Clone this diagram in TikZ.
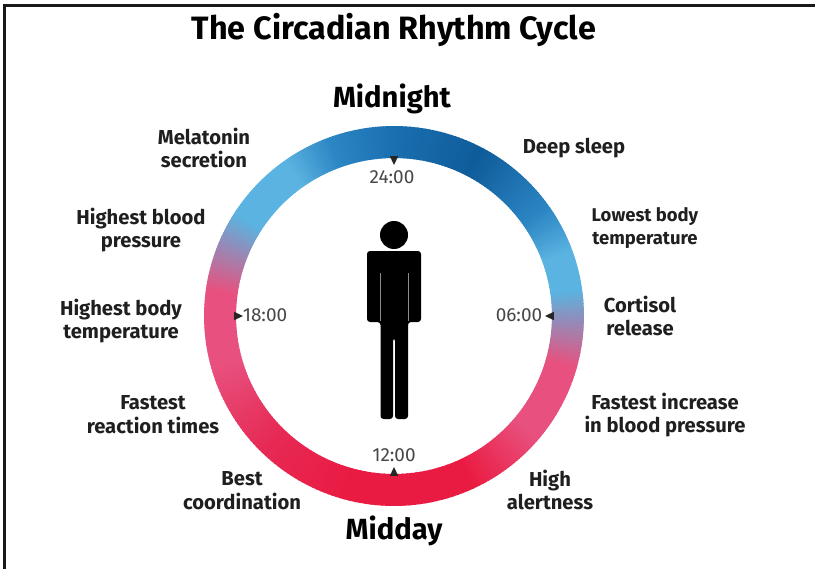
\documentclass[tikz,border=0pt]{standalone}
\usepackage{fontspec}
\setmainfont{Fira Sans}
\usepackage{tikz}

\begin{document}
\begin{tikzpicture}[
    x=0.02cm, y=0.02cm,
    lbl/.style={align=center, font=\fontsize{11.5}{13.6}\selectfont\bfseries, text=black!88},
    lblsmall/.style={lbl, font=\fontsize{10.5}{13}\selectfont\bfseries},
    clock/.style={font=\fontsize{10.8}{11}\selectfont, text=black!72},
    noon/.style={font=\fontsize{16.6}{18}\selectfont\bfseries},
    tick/.style={fill=black!85},
    gap/.style={draw=black!45, line width=0.35pt}
]
\definecolor{topblue}{HTML}{1A6FB0}
\definecolor{deepblue}{HTML}{0F5C9A}
\definecolor{midblue}{HTML}{2C86C4}
\definecolor{skyblue}{HTML}{5AB3E0}
\definecolor{rosepink}{HTML}{E8517F}
\definecolor{warmred}{HTML}{E62A55}
\definecolor{hotred}{HTML}{EA1B42}

\useasboundingbox (0,0) rectangle (815,569);
\draw[line width=0.06cm, draw=black!90] (815,563.5) -- (4.5,563.5) -- (4.5,0);

% Title and the two big labels
\node[font=\fontsize{18.4}{20}\selectfont\bfseries] (title) at (394,539) {The Circadian Rhythm Cycle};
\node[noon] (midnight) at (392,470) {Midnight};
\node[noon] (midday) at (394,38) {Midday};

% Ring: colour stops going clockwise from the top
\begin{scope}[shift={(394,253)}]
\foreach \a/\b/\ca/\cb in {
    90/62/deepblue/topblue, 62/35/midblue/deepblue, 35/20/skyblue/midblue, 20/8/skyblue/skyblue,
    8/-16/rosepink/skyblue, -16/-40/rosepink/rosepink, -40/-65/hotred/rosepink, -65/-105/hotred/hotred,
    -105/-135/warmred/hotred, -135/-165/rosepink/warmred, -165/-188/rosepink/rosepink, -188/-213/skyblue/rosepink,
    -213/-235/skyblue/skyblue, -235/-250/midblue/skyblue, -250/-270/topblue/midblue}
{
    \foreach \t in {0,...,23} {
        \pgfmathsetmacro{\st}{\a+(\b-\a)*\t/24}
        \pgfmathsetmacro{\en}{\a+(\b-\a)*(\t+1.4)/24}
        \pgfmathsetmacro{\mix}{100*(\t+0.5)/24}
        \fill[\ca!\mix!\cb] (\st:3.16cm) -- (\st:3.8cm) arc[start angle=\st, end angle=\en, radius=3.8cm]
            -- (\en:3.16cm) arc[start angle=\en, end angle=\st, radius=3.16cm] -- cycle;
    }
}

% Ticks on the inner edge
\foreach \r in {90,0,-90,180} {
    \fill[tick, rotate=\r] (3.2cm,-0.085cm) -- (3.2cm,0.085cm) -- (3.02cm,0) -- cycle;
}
\end{scope}

% Clock times
\node[clock] (t24) at (392,392) {24:00};
\node[clock] (t18) at (265,254) {18:00};
\node[clock] (t06) at (519,254) {06:00};
\node[clock] (t12) at (394,114) {12:00};

% Labels around the ring
\node[lbl] (mel) at (204,421) {Melatonin\\secretion};
\node[lbl] (deep) at (574,421) {Deep sleep};
\node[lbl] (hbp) at (141,339) {Highest blood\\pressure};
\node[lblsmall] (lbt) at (645,341) {Lowest body\\temperature};
\node[lbl] (hbt) at (121,248) {Highest body\\temperature};
\node[lbl] (cort) at (640,253) {Cortisol\\release};
\node[lbl] (frt) at (153,154) {Fastest\\reaction times};
\node[lbl] (fib) at (665,154) {Fastest increase\\in blood pressure};
\node[lbl] (coord) at (242,78) {Best\\coordination};
\node[lbl] (alert) at (550,79) {High\\alertness};

% Person
\fill[black] (394,334) circle (14);
\fill[black, rounded corners=0.06cm] (367,318) -- (421,318) -- (421,247) -- (408,247) -- (408,150)
    -- (395,150) -- (395,231) -- (393,231) -- (393,150) -- (380.5,150) -- (380.5,247) -- (367,247) -- cycle;
\draw[gap] (380.5,296) -- (380.5,248);
\draw[gap] (408,296) -- (408,248);
\end{tikzpicture}
\end{document}
